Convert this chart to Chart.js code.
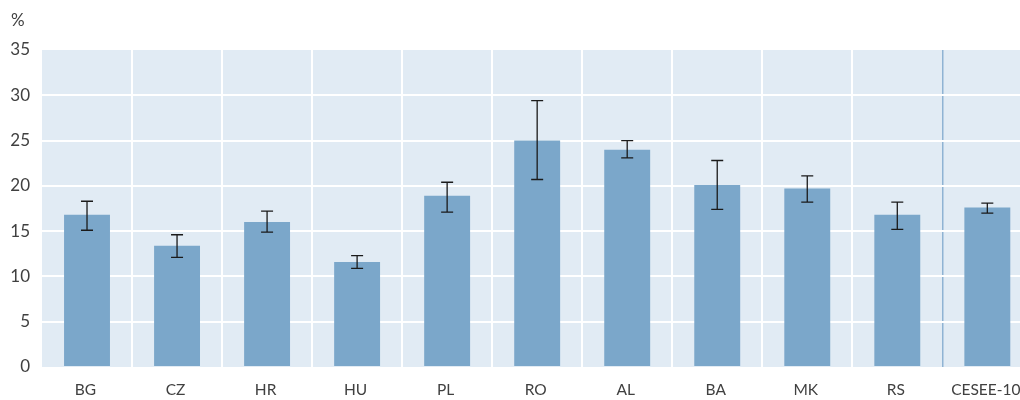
<!DOCTYPE html>
<html>
<head>
<meta charset="utf-8">
<script src="https://cdn.jsdelivr.net/npm/chart.js@4/dist/chart.umd.min.js"></script>
<style>
html,body{margin:0;padding:0;background:#fff;overflow:hidden;width:1020px;height:400px;}
#wrap{width:1036px;height:400px;position:relative;}
</style>
</head>
<body>
<div id="wrap"><canvas id="c"></canvas></div>
<script>
const categories = ['BG','CZ','HR','HU','PL','RO','AL','BA','MK','RS','CESEE-10'];
const values     = [16.8, 13.4, 16.0, 11.6, 18.9, 25.0, 24.0, 20.1, 19.7, 16.8, 17.6];
const errLow     = [15.1, 12.1, 14.9, 10.9, 17.1, 20.7, 23.1, 17.4, 18.2, 15.2, 17.0];
const errHigh    = [18.3, 14.6, 17.2, 12.3, 20.4, 29.4, 25.0, 22.8, 21.1, 18.2, 18.1];
const yTicks     = [0,5,10,15,20,25,30,35];

const bgPlugin = {
  id:'bg',
  beforeDraw(chart){
    const {ctx, chartArea:a} = chart;
    ctx.save(); ctx.fillStyle='#e1ebf4';
    ctx.fillRect(a.left,a.top,a.right-a.left,a.bottom-a.top);
    ctx.restore();
  }
};
const errPlugin = {
  id:'err',
  afterDatasetsDraw(chart){
    const {ctx} = chart; const y = chart.scales.y;
    const meta = chart.getDatasetMeta(0);
    ctx.save(); ctx.strokeStyle='#1a1a1a'; ctx.lineWidth=1.3;
    meta.data.forEach((bar,i)=>{
      const x = bar.x, t = y.getPixelForValue(errHigh[i]), b = y.getPixelForValue(errLow[i]);
      ctx.beginPath();
      ctx.moveTo(x,t); ctx.lineTo(x,b);
      ctx.moveTo(x-6,t); ctx.lineTo(x+6,t);
      ctx.moveTo(x-6,b); ctx.lineTo(x+6,b);
      ctx.stroke();
    });
    ctx.restore();
  }
};
const pctPlugin = {
  id:'pct',
  afterDraw(chart){
    const {ctx} = chart;
    ctx.save(); ctx.fillStyle='#404040'; ctx.font='17px Lato'; ctx.textAlign='left'; ctx.textBaseline='middle';
    ctx.fillText('%', 11, 21);
    ctx.restore();
  }
};

new Chart(document.getElementById('c'), {
  type:'bar',
  data:{labels:categories, datasets:[{data:values, backgroundColor:'#7ba7ca', barPercentage:0.51, categoryPercentage:1.0}]},
  options:{
    responsive:true, maintainAspectRatio:false, animation:false,
    layout:{padding:{left:0,right:0,top:50,bottom:0}},
    plugins:{legend:{display:false}, tooltip:{enabled:false}},
    scales:{
      x:{
        grid:{offset:true, drawTicks:false, lineWidth:(c)=>c.index===10?1.5:2,
          color:(c)=>c.index===0?'rgba(0,0,0,0)':(c.index===10?'#8fb3d3':'#ffffff')},
        border:{display:false},
        ticks:{color:'#404040', font:{family:'Lato', size:15.5}, padding:14, labelOffset:-1.5, maxRotation:0, autoSkip:false},
        afterFit(s){ s.height = 33; }
      },
      y:{
        min:0, max:35,
        afterBuildTicks(s){ s.ticks = yTicks.map(v=>({value:v})); },
        grid:{drawTicks:false, lineWidth:2, color:(c)=>(c.tick && (c.tick.value===35||c.tick.value===0))?'rgba(0,0,0,0)':'#ffffff'},
        border:{display:false},
        ticks:{color:'#404040', font:{family:'Lato', size:17}, padding:12},
        afterFit(s){ s.width = 42; }
      }
    }
  },
  plugins:[bgPlugin, errPlugin, pctPlugin]
});
</script>
</body>
</html>
